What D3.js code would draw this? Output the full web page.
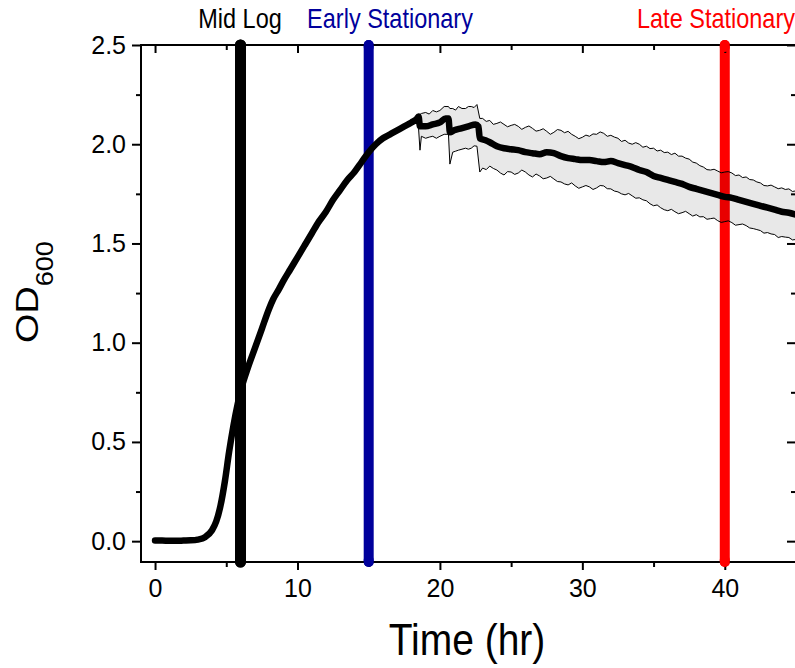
<!DOCTYPE html>
<html>
<head>
<meta charset="utf-8">
<script src="https://cdn.jsdelivr.net/npm/d3@7/dist/d3.min.js"></script>
<style>
  html, body { margin: 0; padding: 0; background: #fff; }
  svg { display: block; }
  text { font-family: "Liberation Sans", Arial, sans-serif; }
</style>
</head>
<body>
<svg id="chart" width="795" height="668"></svg>
<script>
// ---- data ----
const meanTime = [0,0.5,1,1.5,2,2.5,3,3.5,4,4.3,4.6,4.9,5.2,5.5,5.8,6.1,6.5,7,7.5,8,8.3,8.7,9,9.5,10,10.5,11,11.5,12,12.5,13,13.5,14,14.5,15,15.5,16,16.5,17,17.5,18,18.4,18.5,18.6,19,19.5,20,20.4,20.6,20.7,21,21.5,22,22.5,22.7,22.8,23.2,23.5,24,24.5,25,25.5,26,26.5,27,27.5,28,28.5,29,29.5,30,30.5,31,31.5,32,32.5,33,33.5,34,34.5,35,35.5,36,36.5,37,37.5,38,38.5,39,39.5,40,40.5,41,41.5,42,42.5,43,43.5,44,44.5,45];
const meanOD = [0.003,0.003,0.002,0.002,0.003,0.004,0.008,0.02,0.055,0.1,0.18,0.3,0.45,0.58,0.69,0.78,0.87,0.97,1.07,1.17,1.22,1.27,1.31,1.37,1.43,1.49,1.55,1.61,1.66,1.72,1.77,1.82,1.86,1.91,1.96,2.0,2.03,2.05,2.07,2.09,2.11,2.13,2.14,2.09,2.09,2.10,2.11,2.13,2.13,2.06,2.07,2.08,2.09,2.10,2.09,2.03,2.02,2.01,1.99,1.98,1.975,1.97,1.96,1.955,1.95,1.96,1.955,1.94,1.93,1.925,1.92,1.92,1.915,1.91,1.915,1.905,1.895,1.885,1.87,1.86,1.84,1.83,1.82,1.81,1.80,1.785,1.775,1.765,1.755,1.745,1.735,1.73,1.72,1.71,1.70,1.69,1.68,1.67,1.66,1.655,1.645];

const bandTime = [18.4,18.5,18.6,18.7,19.0,19.25,19.5,19.75,20.0,20.3,20.6,20.7,20.9,21.1,21.3,21.55,21.8,22.0,22.2,22.4,22.6,22.8,
  23.0,23.25,23.5,23.75,24.0,24.25,24.5,24.75,25.0,25.25,25.5,25.75,26.0,26.25,26.5,26.75,27.0,27.25,27.5,27.75,28.0,28.25,28.5,28.75,29.0,29.25,29.5,29.75,30.0,30.25,30.5,30.75,31.0,31.25,31.5,31.75,32.0,32.25,32.5,32.75,33.0,33.25,33.5,33.75,34.0,34.25,34.5,34.75,35.0,35.25,35.5,35.75,36.0,36.25,36.5,36.75,37.0,37.25,37.5,37.75,38.0,38.25,38.5,38.75,39.0,39.25,39.5,39.75,40.0,40.25,40.5,40.75,41.0,41.25,41.5,41.75,42.0,42.25,42.5,42.75,43.0,43.25,43.5,43.75,44.0,44.25,44.5,44.75,45.0];
const bandUpper = [2.13,2.15,2.15,2.155,2.16,2.152,2.17,2.163,2.17,2.19,2.19,2.18,2.18,2.172,2.19,2.18,2.18,2.19,2.19,2.185,2.20,2.13,
  2.13,2.115,2.12,2.10,2.105,2.112,2.10,2.088,2.095,2.10,2.09,2.075,2.085,2.092,2.08,2.066,2.07,2.078,2.065,2.05,2.06,2.074,2.07,2.058,2.065,2.05,2.04,2.028,2.035,2.046,2.04,2.052,2.05,2.062,2.055,2.04,2.045,2.036,2.03,2.014,2.02,2.006,2.0,2.008,2.0,1.985,1.99,1.978,1.98,1.966,1.97,1.958,1.96,1.948,1.955,1.94,1.94,1.93,1.925,1.91,1.905,1.892,1.885,1.872,1.87,1.874,1.865,1.856,1.86,1.862,1.855,1.842,1.845,1.832,1.835,1.822,1.82,1.81,1.805,1.792,1.79,1.794,1.785,1.776,1.78,1.772,1.775,1.762,1.765];
const bandLower = [2.13,2.08,1.97,2.04,2.03,2.036,2.04,2.03,2.04,2.05,2.05,1.90,1.96,1.965,1.97,1.975,1.98,1.975,1.98,1.992,1.99,1.86,
  1.88,1.872,1.89,1.878,1.87,1.855,1.845,1.862,1.86,1.848,1.855,1.87,1.86,1.845,1.835,1.85,1.84,1.826,1.83,1.838,1.825,1.812,1.81,1.80,1.795,1.805,1.79,1.778,1.785,1.792,1.785,1.772,1.78,1.792,1.79,1.776,1.775,1.764,1.76,1.75,1.745,1.752,1.74,1.728,1.73,1.72,1.715,1.70,1.69,1.694,1.68,1.67,1.665,1.672,1.66,1.65,1.655,1.662,1.65,1.638,1.645,1.634,1.635,1.622,1.625,1.628,1.615,1.606,1.61,1.614,1.605,1.592,1.595,1.598,1.59,1.578,1.575,1.57,1.565,1.552,1.555,1.548,1.545,1.53,1.535,1.532,1.53,1.518,1.52];

const phaseTimes = [6, 15, 40];
const phaseLabels = ["Mid Log", "Early Stationary", "Late Stationary"];
const phaseColors = ["#000000", "#00009c", "#ff0000"];

const xTicks = [0, 10, 20, 30, 40];
const xMinorTicks = [5, 15, 25, 35, 45];
const yTicks = [0, 0.5, 1.0, 1.5, 2.0, 2.5];
const yMinorTicks = [0.25, 0.75, 1.25, 1.75, 2.25];

// ---- layout ----
const L = 141, R = 796, T = 45, B = 562;
const svg = d3.select("#chart");
const x = d3.scaleLinear().domain([-1, 45]).range([L - 0.2, R]);
const y = d3.scaleLinear().domain([-0.105, 2.5]).range([B, T]);

svg.append("defs").append("clipPath").attr("id", "clip")
  .append("rect").attr("x", L).attr("y", T).attr("width", R - L).attr("height", B - T);

// phase lines
svg.append("g").selectAll("line").data(phaseTimes).join("line")
  .attr("x1", d => x(d)).attr("x2", d => x(d))
  .attr("y1", T).attr("y2", B)
  .attr("stroke", (d, i) => phaseColors[i])
  .attr("stroke-width", (d, i) => i === 0 ? 11 : 10)
  .attr("stroke-linecap", "round");

const plot = svg.append("g").attr("clip-path", "url(#clip)");
const nBand = Math.min(bandTime.length, bandUpper.length, bandLower.length);
const bandIdx = d3.range(nBand);

plot.append("path")
  .attr("d", d3.area().x(i => x(bandTime[i])).y0(i => y(bandLower[i])).y1(i => y(bandUpper[i]))(bandIdx))
  .attr("fill", "#000").attr("fill-opacity", 0.09);
plot.append("path")
  .attr("d", d3.line().x(i => x(bandTime[i])).y(i => y(bandUpper[i]))(bandIdx))
  .attr("fill", "none").attr("stroke", "#000").attr("stroke-width", 1);
plot.append("path")
  .attr("d", d3.line().x(i => x(bandTime[i])).y(i => y(bandLower[i]))(bandIdx))
  .attr("fill", "none").attr("stroke", "#000").attr("stroke-width", 1);

const meanIdx = d3.range(meanTime.length);
plot.append("path")
  .attr("d", d3.line().curve(d3.curveMonotoneX).x(i => x(meanTime[i])).y(i => y(meanOD[i]))(meanIdx))
  .attr("fill", "none").attr("stroke", "#000").attr("stroke-width", 6.5)
  .attr("stroke-linecap", "round").attr("stroke-linejoin", "round");

// ---- axes ----
function styleAxis(g) {
  g.select(".domain").remove();
  g.selectAll("line").attr("stroke", "#000").attr("stroke-width", 2);
}
// bottom major
svg.append("g").attr("transform", `translate(0,${B})`)
  .call(d3.axisBottom(x).tickValues(xTicks).tickSize(8).tickPadding(9).tickFormat(d3.format("d")))
  .call(styleAxis)
  .call(g => g.selectAll("text").attr("font-size", 25).attr("fill", "#000")
    .attr("font-family", "Liberation Sans, Arial, sans-serif"));
svg.append("g").attr("transform", `translate(0,${B})`)
  .call(d3.axisBottom(x).tickValues(xMinorTicks).tickSize(5).tickFormat(""))
  .call(styleAxis);
// top (inward)
svg.append("g").attr("transform", `translate(0,${T})`)
  .call(d3.axisBottom(x).tickValues(xTicks).tickSize(8).tickFormat(""))
  .call(styleAxis);
svg.append("g").attr("transform", `translate(0,${T})`)
  .call(d3.axisBottom(x).tickValues(xMinorTicks).tickSize(5).tickFormat(""))
  .call(styleAxis);
// left
svg.append("g").attr("transform", `translate(${L},0)`)
  .call(d3.axisLeft(y).tickValues(yTicks).tickSize(9).tickPadding(6).tickFormat(d3.format(".1f")))
  .call(styleAxis)
  .call(g => g.selectAll("text").attr("font-size", 25).attr("fill", "#000")
    .attr("font-family", "Liberation Sans, Arial, sans-serif"));
svg.append("g").attr("transform", `translate(${L},0)`)
  .call(d3.axisLeft(y).tickValues(yMinorTicks).tickSize(5).tickFormat(""))
  .call(styleAxis);
// right (inward)
svg.append("g").attr("transform", `translate(${R},0)`)
  .call(d3.axisRight(y).tickValues(yTicks).tickSize(-9).tickFormat(""))
  .call(styleAxis);
svg.append("g").attr("transform", `translate(${R},0)`)
  .call(d3.axisRight(y).tickValues(yMinorTicks).tickSize(-5).tickFormat(""))
  .call(styleAxis);

// frame
svg.append("rect").attr("x", L).attr("y", T).attr("width", R - L).attr("height", B - T)
  .attr("fill", "none").attr("stroke", "#000").attr("stroke-width", 2);

// phase line caps drawn over frame
svg.append("g").selectAll("line").data(phaseTimes).join("line")
  .attr("x1", d => x(d)).attr("x2", d => x(d))
  .attr("y1", T).attr("y2", T + 2)
  .attr("stroke", (d, i) => phaseColors[i])
  .attr("stroke-width", (d, i) => i === 0 ? 11 : 10)
  .attr("stroke-linecap", "round");
svg.append("g").selectAll("line").data(phaseTimes).join("line")
  .attr("x1", d => x(d)).attr("x2", d => x(d))
  .attr("y1", B - 2).attr("y2", B)
  .attr("stroke", (d, i) => phaseColors[i])
  .attr("stroke-width", (d, i) => i === 0 ? 11 : 10)
  .attr("stroke-linecap", "round");

// phase labels
const labelX = [240, 390, 716];
svg.append("g").selectAll("text").data(phaseLabels).join("text")
  .attr("transform", (d, i) => `translate(${labelX[i]},28) scale(1,1.15)`)
  .attr("text-anchor", "middle")
  .attr("font-size", 23.5)
  .attr("fill", (d, i) => phaseColors[i])
  .text(d => d);

// axis titles
svg.append("text")
  .attr("transform", "translate(467,655) scale(1,1.14)")
  .attr("text-anchor", "middle").attr("font-size", 39).attr("fill", "#000")
  .text("Time (hr)");

const yt = svg.append("text")
  .attr("transform", "translate(38,292) rotate(-90) scale(1.18,1)")
  .attr("text-anchor", "middle").attr("fill", "#000");
yt.append("tspan").attr("font-size", 32).text("OD");
yt.append("tspan").attr("font-size", 23).attr("dy", 15).text("600");
</script>
</body>
</html>
